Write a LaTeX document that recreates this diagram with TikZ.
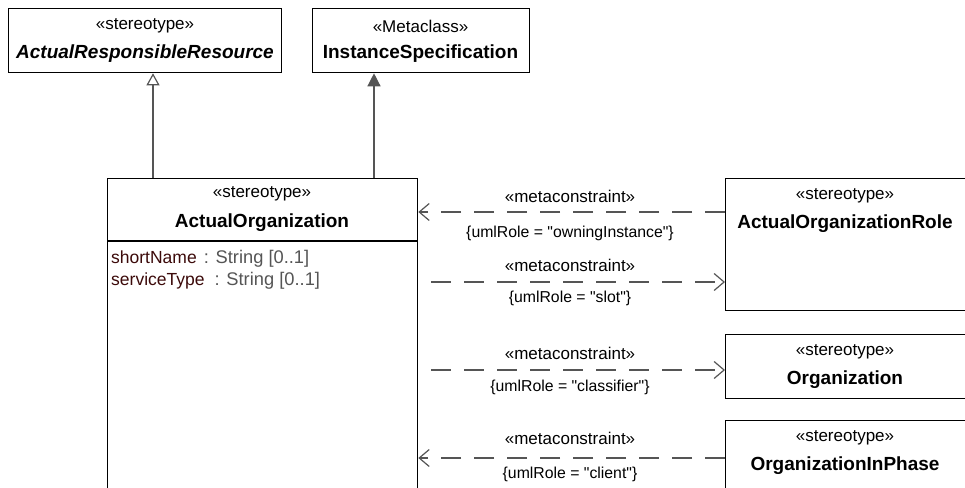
\documentclass[tikz,border=0pt]{standalone}
\usepackage{fontspec}
\setmainfont{Liberation Sans}[Ligatures=TeXOff]
\usetikzlibrary{arrows.meta}
\definecolor{linegray}{HTML}{555555}
\definecolor{attrname}{HTML}{3C0A0A}
\definecolor{attrtype}{HTML}{555555}
\newcommand{\attrtxt}[3]{\textcolor{attrname}{#1}\hspace{#3}\textcolor{attrtype}{\fontsize{18.3}{19}\selectfont: #2}}
\begin{document}
\begin{tikzpicture}[x=1pt,y=-1pt,
  box/.style={draw=black,line width=1.3pt,fill=white,anchor=north west,inner sep=0pt},
  stereo/.style={font=\fontsize{17}{19}\selectfont,inner sep=0pt,anchor=center},
  cname/.style={font=\fontsize{19}{21}\selectfont\bfseries,inner sep=0pt,anchor=center},
  lbl/.style={font=\fontsize{17}{19}\selectfont,inner sep=0pt,anchor=center},
  cons/.style={font=\fontsize{15.8}{17}\selectfont,inner sep=0pt,anchor=center},
  attr/.style={font=\fontsize{17.5}{19}\selectfont,inner sep=0pt,anchor=west},
  dep/.style={draw=linegray,line width=1.2pt,dash pattern=on 20pt off 13pt,
    -{Straight Barb[length=10pt,width=17pt,line width=1.2pt]}},
  gen/.style={draw=linegray,line width=1.3pt,
    -{Triangle[open,length=12pt,width=13pt,line width=1.2pt,fill=white]}},
  inst/.style={draw=linegray,line width=1.3pt,
    -{Triangle[length=13pt,width=13pt,fill=linegray]}}]
\useasboundingbox (0,0) rectangle (965,487);
\clip (0,0) rectangle (965,487);

% top boxes
\node[box,minimum width=273pt,minimum height=64pt] (arr) at (8,8) {};
\node[stereo] (arrs) at (145,26) {«stereotype»};
\node[cname,font=\fontsize{19}{21}\selectfont\bfseries\itshape] (arrn) at (145,54) {ActualResponsibleResource};

\node[box,minimum width=217pt,minimum height=64pt] (is) at (312,8) {};
\node[stereo] (iss) at (420.5,26) {«Metaclass»};
\node[cname] (isn) at (420.5,54) {InstanceSpecification};

% main box
\node[box,minimum width=310pt,minimum height=330pt] (ao) at (107,178) {};
\node[stereo] (aos) at (262,194) {«stereotype»};
\node[cname] (aon) at (262,223) {ActualOrganization};
\draw[black,line width=1.3pt] (ao.west |- 0,241) coordinate (sepl) -- (ao.east |- 0,241) coordinate (sepr);
\node[attr] (a1) at (111,259) {\attrtxt{shortName}{String [0..1]}{7pt}};
\node[attr] (a2) at (111,281) {\attrtxt{serviceType}{String [0..1]}{10pt}};

% right boxes
\node[box,minimum width=270pt,minimum height=132pt] (aor) at (725,178) {};
\node[stereo] (aors) at (845,196) {«stereotype»};
\node[cname] (aorn) at (845,224) {ActualOrganizationRole};

\node[box,minimum width=270pt,minimum height=64pt] (org) at (725,334) {};
\node[stereo] (orgs) at (845,352) {«stereotype»};
\node[cname] (orgn) at (845,380) {Organization};

\node[box,minimum width=270pt,minimum height=80pt] (oip) at (725,420) {};
\node[stereo] (oips) at (845,438) {«stereotype»};
\node[cname] (oipn) at (845,466) {OrganizationInPhase};

% generalization / extension
\coordinate (g1) at (153,0);
\coordinate (g2) at (374,0);
\draw[gen] (ao.north -| g1) -- (arr.south -| g1);
\draw[inst] (ao.north -| g2) -- (is.south -| g2);

% dependencies
\coordinate (y1) at (0,212);
\coordinate (y2) at (0,282);
\coordinate (y3) at (0,370);
\coordinate (y4) at (0,458);
\draw[dep] (aor.west |- y1) -- (ao.east |- y1);
\draw[dep,dash phase=-13pt] (ao.east |- y2) -- (aor.west |- y2);
\draw[dep,dash phase=-13pt] (ao.east |- y3) -- (org.west |- y3);
\draw[dep] (oip.west |- y4) -- (ao.east |- y4);

\node[lbl] (l1a) at (570,196) {«metaconstraint»};
\node[cons] (l1b) at (570,233) {\{umlRole = "owningInstance"\}};
\node[lbl] (l2a) at (570,265) {«metaconstraint»};
\node[cons] (l2b) at (570,298) {\{umlRole = "slot"\}};
\node[lbl] (l3a) at (570,353) {«metaconstraint»};
\node[cons] (l3b) at (570,387) {\{umlRole = "classifier"\}};
\node[lbl] (l4a) at (570,438) {«metaconstraint»};
\node[cons] (l4b) at (570,474) {\{umlRole = "client"\}};
\end{tikzpicture}
\end{document}
